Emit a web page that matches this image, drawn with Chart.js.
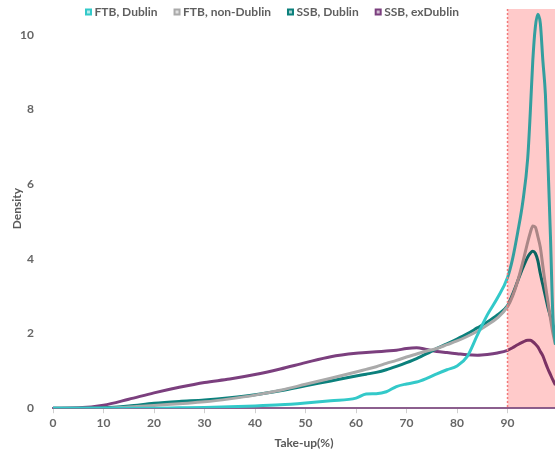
<!DOCTYPE html>
<html>
<head>
<meta charset="utf-8">
<script src="https://cdn.jsdelivr.net/npm/chart.js@4.4.0/dist/chart.umd.min.js"></script>
<style>
  html, body { margin: 0; padding: 0; background: #fff; }
  #wrap { width: 555px; height: 454px; position: relative; }
</style>
</head>
<body>
<div id="wrap"><canvas id="c" width="555" height="454"></canvas></div>
<script>
// ---- data ----
const takeUp = [0,5,10,15,20,25,30,35,40,45,50,55,60,
  62,64,66,68,70,72,74,76,78,80,82,84,86,88,90,
  91,92,93,94,94.5,95,95.5,96,96.5,97,97.5,98,98.5,99,99.5];

const ftbDublin = [0,0,0,0,0,0.01,0.02,0.04,0.06,0.09,0.14,0.2,0.27,
  0.38,0.39,0.44,0.58,0.65,0.7,0.8,0.92,1.03,1.13,1.38,1.95,2.5,2.95,3.5,
  4.0,4.7,5.5,6.7,7.9,9.3,10.2,10.55,10.3,9.3,8.4,6.6,4.6,2.4,1.7];

const ftbNonDublin = [0,0,0,0.03,0.07,0.12,0.17,0.25,0.35,0.48,0.64,0.8,0.97,
  1.04,1.11,1.2,1.28,1.37,1.45,1.53,1.6,1.7,1.8,1.92,2.06,2.23,2.42,2.72,
  3.0,3.4,3.9,4.45,4.7,4.88,4.85,4.6,4.3,3.8,3.3,2.85,2.4,2.0,1.7];

const ssbDublin = [0,0,0.01,0.06,0.13,0.18,0.22,0.28,0.36,0.47,0.6,0.73,0.86,
  0.91,0.96,1.03,1.12,1.22,1.33,1.46,1.6,1.72,1.85,1.99,2.15,2.31,2.5,2.75,
  3.05,3.4,3.75,4.05,4.15,4.2,4.15,3.95,3.6,3.3,3.0,2.7,2.45,2.2,1.95];

const ssbExDublin = [0,0.01,0.08,0.24,0.41,0.56,0.69,0.78,0.9,1.05,1.22,1.38,1.47,
  1.49,1.51,1.53,1.55,1.6,1.62,1.57,1.52,1.49,1.46,1.43,1.42,1.44,1.48,1.55,
  1.62,1.7,1.77,1.82,1.82,1.78,1.72,1.64,1.52,1.4,1.22,1.05,0.9,0.75,0.62];

const seriesNames = ['FTB, Dublin', 'FTB, non-Dublin', 'SSB, Dublin', 'SSB, exDublin'];
const seriesColors = ['#33c9c9', '#aaaaaa', '#0b807c', '#7b3f7e'];
const xTicks = [0,10,20,30,40,50,60,70,80,90];
const yTicks = [0,2,4,6,8,10];
const shadeFrom = 90;

// ---- build ----
const allSeries = [ftbDublin, ftbNonDublin, ssbDublin, ssbExDublin];
const datasets = allSeries.map((arr, i) => ({
  label: seriesNames[i],
  data: arr.map((v, j) => ({ x: takeUp[j], y: v })),
  borderColor: seriesColors[i],
  backgroundColor: seriesColors[i],
  borderWidth: 3,
  pointRadius: 0,
  cubicInterpolationMode: 'monotone',
  fill: false
}));

const FONT = 'Lato, "Noto Sans", sans-serif';

const shadePlugin = {
  id: 'shade',
  afterDatasetsDraw(chart) {
    const { ctx, chartArea, scales } = chart;
    const x0 = scales.x.getPixelForValue(shadeFrom);
    ctx.save();
    ctx.globalCompositeOperation = 'multiply';
    ctx.fillStyle = '#ffcaca';
    ctx.fillRect(x0, chartArea.top, chartArea.right - x0, chartArea.bottom - chartArea.top - 1);
    ctx.restore();
    ctx.save();
    ctx.strokeStyle = '#f27a7a';
    ctx.lineWidth = 1.5;
    ctx.setLineDash([2, 2]);
    ctx.beginPath();
    ctx.moveTo(x0, chartArea.top);
    ctx.lineTo(x0, chartArea.bottom);
    ctx.stroke();
    ctx.restore();
  }
};

const legendPlugin = {
  id: 'topLegend',
  afterDraw(chart) {
    const ctx = chart.ctx;
    ctx.save();
    ctx.font = 'bold 12px ' + FONT;
    ctx.textBaseline = 'middle';
    let x = 85;
    const y = 12;
    seriesNames.forEach((name, i) => {
      ctx.fillStyle = seriesColors[i];
      ctx.fillRect(x, y - 3.5, 7, 7);
      ctx.fillStyle = 'rgba(255,255,255,0.65)';
      ctx.fillRect(x + 2, y - 1.5, 3, 3);
      ctx.fillStyle = '#5f5f5f';
      ctx.fillText(name, x + 9.5, y + 0.5);
      x += 9.5 + ctx.measureText(name).width + 16;
    });
    ctx.restore();
  }
};

new Chart(document.getElementById('c'), {
  type: 'line',
  data: { datasets },
  options: {
    responsive: false,
    animation: false,
    layout: { padding: { top: 9, right: 0, bottom: 0, left: 0 } },
    plugins: { legend: { display: false }, tooltip: { enabled: false } },
    scales: {
      x: {
        type: 'linear',
        min: 0,
        max: 99.4,
        afterBuildTicks(scale) { scale.ticks = xTicks.map(v => ({ value: v })); },
        afterFit(scale) { scale.paddingRight = 0; },
        grid: { drawOnChartArea: false, drawTicks: true, tickLength: 5, color: '#cfcfcf' },
        border: { display: true, color: '#8c5f8e', width: 2 },
        ticks: { color: '#666', font: { family: FONT, size: 12, weight: 'bold' }, padding: 3, maxRotation: 0 },
        title: { display: true, text: 'Take-up(%)', color: '#595959', font: { family: FONT, size: 12, weight: 'bold' }, padding: { top: 2, bottom: 4 } }
      },
      y: {
        min: 0,
        max: 10.69,
        afterBuildTicks(scale) { scale.ticks = yTicks.map(v => ({ value: v })); },
        afterFit(scale) { scale.width = 53; scale.paddingTop = 0; scale.paddingBottom = 0; },
        grid: { display: false },
        border: { display: false },
        ticks: { color: '#666', font: { family: FONT, size: 12, weight: 'bold' }, padding: 11 },
        title: { display: true, text: 'Density', color: '#595959', font: { family: FONT, size: 12, weight: 'bold' }, padding: { top: 10, bottom: 0 } }
      }
    }
  },
  plugins: [shadePlugin, legendPlugin]
});
</script>
</body>
</html>
